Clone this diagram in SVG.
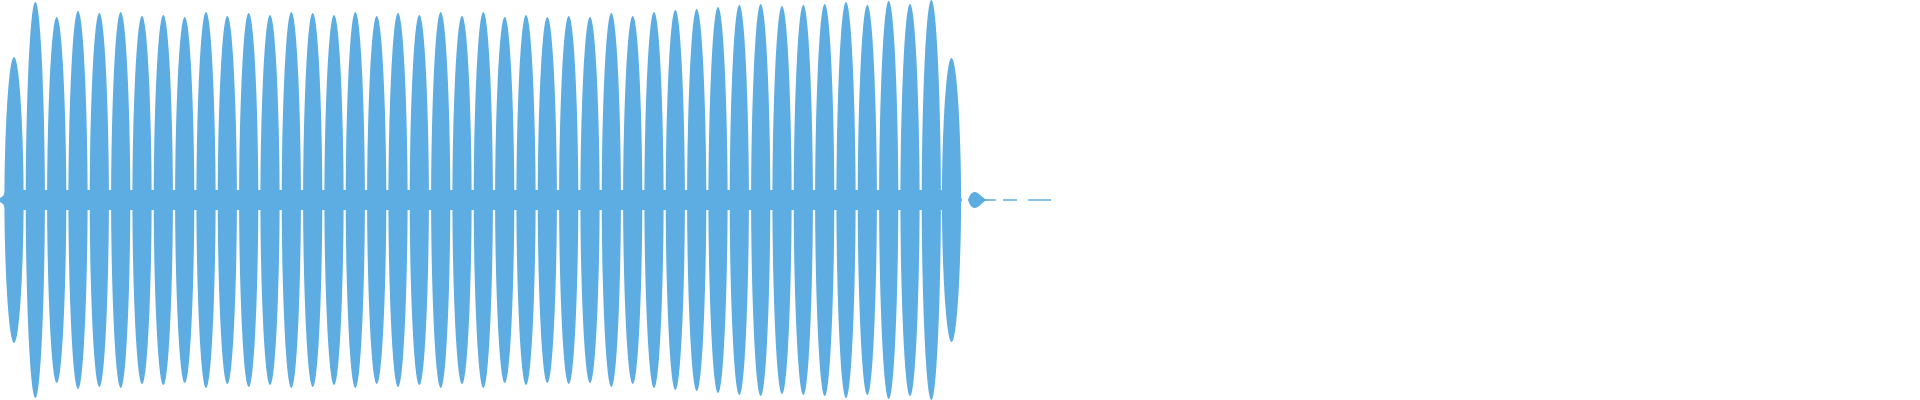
<svg xmlns="http://www.w3.org/2000/svg" xmlns:xlink="http://www.w3.org/1999/xlink" width="1920" height="400" viewBox="0 0 1920 400">
<style>.w{fill:#5dade2}.d{stroke:#5dade2;stroke-width:1.6;fill:none}</style>
<defs><path id="L" d="M-9.6 0C-9.6 -45 -5.5 -100 0 -100C5.5 -100 9.6 -45 9.6 0C9.6 45 5.5 100 0 100C-5.5 100 -9.6 45 -9.6 0Z"/></defs>
<path class="w" d="M0 198L3 196L6 190L958 190L962 200L958 210L6 210L3 204L0 202Z"/>
<g class="w">
<use href="#L" transform="translate(14 200) scale(1 1.43)"/>
<use href="#L" transform="translate(35.3 200) scale(1 1.98)"/>
<use href="#L" transform="translate(56.7 200) scale(1 1.83)"/>
<use href="#L" transform="translate(78 200) scale(1 1.89)"/>
<use href="#L" transform="translate(99.3 200) scale(1 1.87)"/>
<use href="#L" transform="translate(120.7 200) scale(1 1.88)"/>
<use href="#L" transform="translate(142 200) scale(1 1.84)"/>
<use href="#L" transform="translate(163.3 200) scale(1 1.85)"/>
<use href="#L" transform="translate(184.7 200) scale(1 1.83)"/>
<use href="#L" transform="translate(206 200) scale(1 1.88)"/>
<use href="#L" transform="translate(227.3 200) scale(1 1.84)"/>
<use href="#L" transform="translate(248.7 200) scale(1 1.87)"/>
<use href="#L" transform="translate(270 200) scale(1 1.85)"/>
<use href="#L" transform="translate(291.3 200) scale(1 1.88)"/>
<use href="#L" transform="translate(312.7 200) scale(1 1.87)"/>
<use href="#L" transform="translate(334 200) scale(1 1.85)"/>
<use href="#L" transform="translate(355.3 200) scale(1 1.88)"/>
<use href="#L" transform="translate(376.7 200) scale(1 1.84)"/>
<use href="#L" transform="translate(398 200) scale(1 1.87)"/>
<use href="#L" transform="translate(419.3 200) scale(1 1.85)"/>
<use href="#L" transform="translate(440.7 200) scale(1 1.88)"/>
<use href="#L" transform="translate(462 200) scale(1 1.84)"/>
<use href="#L" transform="translate(483.3 200) scale(1 1.88)"/>
<use href="#L" transform="translate(504.7 200) scale(1 1.83)"/>
<use href="#L" transform="translate(526 200) scale(1 1.85)"/>
<use href="#L" transform="translate(547.3 200) scale(1 1.83)"/>
<use href="#L" transform="translate(568.7 200) scale(1 1.84)"/>
<use href="#L" transform="translate(590 200) scale(1 1.83)"/>
<use href="#L" transform="translate(611.3 200) scale(1 1.87)"/>
<use href="#L" transform="translate(632.7 200) scale(1 1.84)"/>
<use href="#L" transform="translate(654 200) scale(1 1.88)"/>
<use href="#L" transform="translate(675.3 200) scale(1 1.90)"/>
<use href="#L" transform="translate(696.7 200) scale(1 1.91)"/>
<use href="#L" transform="translate(718 200) scale(1 1.93)"/>
<use href="#L" transform="translate(739.3 200) scale(1 1.95)"/>
<use href="#L" transform="translate(760.7 200) scale(1 1.96)"/>
<use href="#L" transform="translate(782 200) scale(1 1.94)"/>
<use href="#L" transform="translate(803.3 200) scale(1 1.95)"/>
<use href="#L" transform="translate(824.7 200) scale(1 1.96)"/>
<use href="#L" transform="translate(846 200) scale(1 1.98)"/>
<use href="#L" transform="translate(867.3 200) scale(1 1.95)"/>
<use href="#L" transform="translate(888.7 200) scale(1 1.99)"/>
<use href="#L" transform="translate(910 200) scale(1 1.96)"/>
<use href="#L" transform="translate(931.3 200) scale(1 2.0)"/>
<use href="#L" transform="translate(951.5 200) scale(1 1.42)"/>
<path d="M968 200C970 194 972 192 975 192C978 192 981 196 985 199L990 200L985 201C981 204 978 208 975 208C972 208 970 206 968 200Z"/>
</g>
<g class="d"><path d="M985 200H996M1003 200H1017M1028 200H1051"/></g>
</svg>
